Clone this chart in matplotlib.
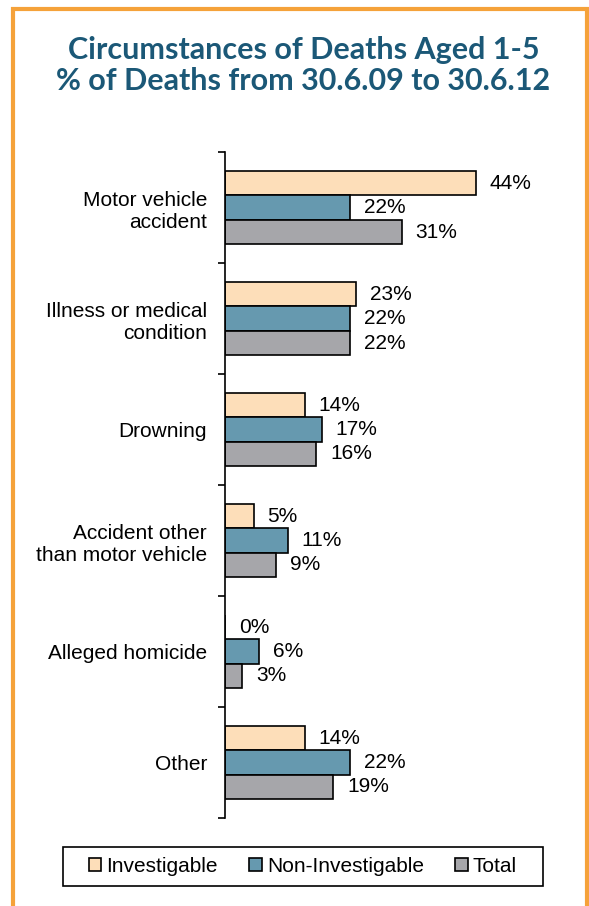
import matplotlib
matplotlib.use("Agg")
import matplotlib.pyplot as plt
from matplotlib.patches import Rectangle
import numpy as np

# Circumstances of deaths, children aged 1-5 (% of deaths)
categories = ["Motor vehicle\naccident", "Illness or medical\ncondition", "Drowning",
              "Accident other\nthan motor vehicle", "Alleged homicide", "Other"]
investigable = [44, 23, 14, 5, 0, 14]
non_investigable = [22, 22, 17, 11, 6, 22]
total = [31, 22, 16, 9, 3, 19]

series = [("Investigable", investigable, "#FDDEB9"),
          ("Non-Investigable", non_investigable, "#6699AF"),
          ("Total", total, "#A6A6AA")]

plt.rcParams["font.family"] = ["Liberation Sans", "DejaVu Sans"]

fig = plt.figure(figsize=(5.89, 9.06), dpi=100)
ax = fig.add_axes([0.382, 0.0971, 0.484, 0.735])

centers = np.arange(len(categories)) + 0.5
bar_h = 0.22
for k, (name, vals, color) in enumerate(series):
    ypos = centers + (k - 1) * bar_h
    ax.barh(ypos, vals, height=bar_h, color=color, edgecolor="black",
            linewidth=1.2, label=name)
    for y, v in zip(ypos, vals):
        ax.annotate(f"{v}%", (v, y), xytext=(10, 0), textcoords="offset points",
                    ha="left", va="center", fontsize=15)

ax.set_xlim(0, 50)
ax.set_ylim(len(categories), 0)

for side in ["top", "right", "bottom"]:
    ax.spines[side].set_visible(False)
ax.spines["left"].set_linewidth(1.2)
ax.set_xticks([])

ax.set_yticks(centers)
ax.set_yticklabels(categories, fontsize=15, linespacing=1.22)
ax.tick_params(axis="y", which="major", length=0, pad=13)
ax.set_yticks(np.arange(len(categories) + 1), minor=True)
ax.tick_params(axis="y", which="minor", length=5, width=1.2, direction="out")

fig.text(0.515, 0.928, "Circumstances of Deaths Aged 1-5\n% of Deaths from 30.6.09 to 30.6.12",
         ha="center", va="center", fontsize=22, fontweight="bold",
         color="#1B5877", family="Lato", linespacing=1.15)

# legend entries without their own frame; the box is drawn separately
fig.legend(loc="center", bbox_to_anchor=(303 / 589, 1 - 866 / 906), ncol=3, fontsize=15,
           frameon=False, handlelength=0.6, handleheight=0.6,
           handletextpad=0.25, columnspacing=1.5)
fig.patches.append(Rectangle((63 / 589, 1 - 886 / 906), 480 / 589, 39 / 906,
                             transform=fig.transFigure, fill=False,
                             edgecolor="black", linewidth=1.2))

# orange frame round the panel
fig.patches.append(Rectangle((13 / 589, -0.05), 574 / 589, 1.05 - 9 / 906,
                             transform=fig.transFigure, fill=False,
                             edgecolor="#F5A23A", linewidth=3))

fig.savefig("out.png", dpi=100)
